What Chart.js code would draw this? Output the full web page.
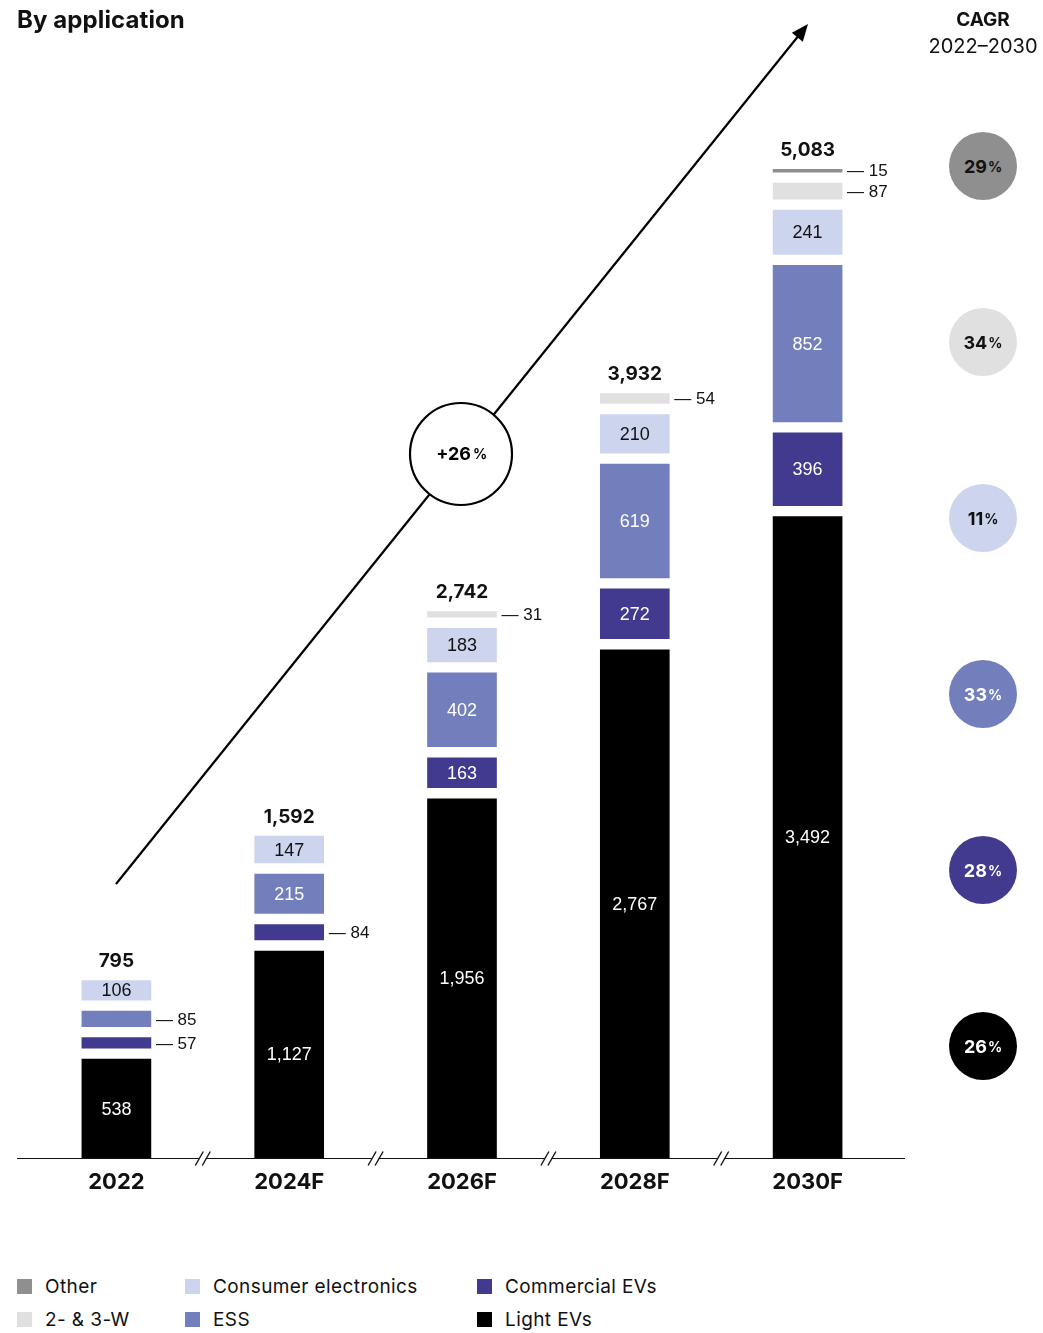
<!DOCTYPE html>
<html><head><meta charset="utf-8">
<script src="https://cdn.jsdelivr.net/npm/chart.js@4.4.0/dist/chart.umd.min.js"></script>
<style>
body{margin:0;background:#fff;width:1043px;height:1333px;position:relative;overflow:hidden;font-family:Inter,"Noto Sans",sans-serif;color:#111;}
#wrap{position:absolute;left:0;top:0;width:1043px;height:1230px;}
.title{position:absolute;left:17px;top:5px;font-weight:700;font-size:24px;letter-spacing:0.1px;}
.cagrT{position:absolute;left:923px;width:120px;text-align:center;}
.circ{position:absolute;width:68px;height:68px;border-radius:50%;left:949px;display:flex;align-items:center;justify-content:center;font-weight:700;font-size:18px;}
.circ small{font-size:14px;margin-left:1px;}
.leg{position:absolute;font-size:19px;letter-spacing:0.4px;display:flex;align-items:center;height:20px;}
.leg i{display:inline-block;width:15px;height:15px;margin-right:13px;}
</style></head>
<body>
<div id="wrap"><canvas id="c"></canvas></div>
<div class="title">By application</div>
<div class="cagrT" style="top:8px;font-weight:700;font-size:19px;">CAGR</div>
<div class="cagrT" style="top:34px;font-size:20px;">2022–2030</div>
<div id="circles"></div>
<div id="legend"></div>
<script>
const categories = ['2022','2024F','2026F','2028F','2030F'];
const seriesNames = ['Light EVs','Commercial EVs','ESS','Consumer electronics','2- & 3-W','Other'];
const lightEVs      = [538, 1127, 1956, 2767, 3492];
const commercialEVs = [57, 84, 163, 272, 396];
const ess           = [85, 215, 402, 619, 852];
const consumerElec  = [106, 147, 183, 210, 241];
const twoThreeW     = [0, 0, 31, 54, 87];
const other         = [0, 0, 0, 0, 15];
const totals        = [795, 1592, 2742, 3932, 5083];
const cagrLabels    = ['Other','2- & 3-W','Consumer electronics','ESS','Commercial EVs','Light EVs'];
const cagrValues    = [29, 34, 11, 33, 28, 26];
const overallCagr   = 26;

const series = [lightEVs, commercialEVs, ess, consumerElec, twoThreeW, other];
const colors = ['#000000','#413a8e','#737ebd','#cdd4ee','#e0e0e0','#8f8f8f'];
const textColors = ['#ffffff','#ffffff','#ffffff','#111111','#111111','#111111'];
const cagrColors = {'Other':'#8f8f8f','2- & 3-W':'#e0e0e0','Consumer electronics':'#cdd4ee','ESS':'#737ebd','Commercial EVs':'#413a8e','Light EVs':'#000000'};
const cagrText = {'Other':'#111','2- & 3-W':'#111','Consumer electronics':'#111','ESS':'#fff','Commercial EVs':'#fff','Light EVs':'#fff'};
const GAP = 60; // visual gap between segments, in value units
const fmt = v => v.toLocaleString('en-US');

// build floating ranges with gaps
const ranges = series.map(()=>[]);
categories.forEach((c,j)=>{
  let cum = 0, first = true;
  series.forEach((s,i)=>{
    const v = s[j];
    if(!v){ ranges[i].push(null); return; }
    if(!first) cum += GAP;
    ranges[i].push([cum, cum+v]);
    cum += v; first = false;
  });
});

const decor = {
  id:'decor',
  afterDraw(chart){
    const ctx = chart.ctx, ca = chart.chartArea;
    ctx.save();
    ctx.textBaseline = 'middle';
    series.forEach((s,i)=>{
      const meta = chart.getDatasetMeta(i);
      meta.data.forEach((bar,j)=>{
        const v = s[j]; if(!v) return;
        const p = bar.getProps(['x','y','base','width'], true);
        const cy = (p.y + p.base)/2;
        if(v >= 100){
          ctx.font = '18px "Liberation Sans", Arial, sans-serif';
          ctx.fillStyle = textColors[i];
          ctx.textAlign = 'center';
          ctx.fillText(fmt(v), p.x, cy+1);
        } else {
          ctx.font = '17px "Liberation Sans", Arial, sans-serif';
          ctx.fillStyle = '#111';
          ctx.textAlign = 'left';
          ctx.fillText('— ' + fmt(v), p.x + p.width/2 + 5, cy+1);
        }
      });
    });
    // totals
    categories.forEach((c,j)=>{
      let top = Infinity, x = 0;
      series.forEach((s,i)=>{
        if(!s[j]) return;
        const b = chart.getDatasetMeta(i).data[j];
        const p = b.getProps(['x','y'], true);
        if(p.y < top){ top = p.y; x = p.x; }
      });
      ctx.font = 'bold 19px Inter, sans-serif';
      ctx.fillStyle = '#111';
      ctx.textAlign = 'center';
      ctx.fillText(fmt(totals[j]), x, top - 19);
    });
    // baseline with breaks
    const yb = ca.bottom + 0.5;
    ctx.strokeStyle = '#111'; ctx.lineWidth = 1.2;
    ctx.beginPath(); ctx.moveTo(17, yb); ctx.lineTo(905, yb); ctx.stroke();
    const xs = chart.getDatasetMeta(0).data.map(b=>b.x);
    for(let k=0;k<xs.length-1;k++){
      const mx = (xs[k]+xs[k+1])/2;
      ctx.fillStyle = '#fff';
      ctx.fillRect(mx-4, yb-3, 7, 6);
      ctx.strokeStyle = '#111'; ctx.lineWidth = 1.4;
      [-3.5, 3.5].forEach(d=>{
        ctx.beginPath(); ctx.moveTo(mx+d-4, yb+7); ctx.lineTo(mx+d+4, yb-7); ctx.stroke();
      });
    }
    // arrow
    const x0 = 116, y0 = 884, x1 = 808, y1 = 24;
    ctx.strokeStyle = '#000'; ctx.lineWidth = 2.2;
    const ang = Math.atan2(y1-y0, x1-x0);
    ctx.beginPath(); ctx.moveTo(x0,y0); ctx.lineTo(x1 - 10*Math.cos(ang), y1 - 10*Math.sin(ang)); ctx.stroke();
    ctx.fillStyle = '#000';
    ctx.beginPath();
    ctx.moveTo(x1,y1);
    ctx.lineTo(x1 - 17*Math.cos(ang) + 7*Math.sin(ang), y1 - 17*Math.sin(ang) - 7*Math.cos(ang));
    ctx.lineTo(x1 - 17*Math.cos(ang) - 7*Math.sin(ang), y1 - 17*Math.sin(ang) + 7*Math.cos(ang));
    ctx.closePath(); ctx.fill();
    // circle
    const cx = 461, cyc = 454, r = 51;
    ctx.fillStyle = '#fff'; ctx.strokeStyle = '#000'; ctx.lineWidth = 2.2;
    ctx.beginPath(); ctx.arc(cx, cyc, r, 0, Math.PI*2); ctx.fill(); ctx.stroke();
    ctx.fillStyle = '#000';
    ctx.font = 'bold 18px Inter, sans-serif';
    ctx.textAlign = 'right';
    ctx.fillText('+' + overallCagr, cx + 10, cyc + 1);
    ctx.font = 'bold 14px Inter, sans-serif';
    ctx.textAlign = 'left';
    ctx.fillText('%', cx + 12, cyc + 1);
    ctx.restore();
  }
};

new Chart(document.getElementById('c'), {
  type:'bar',
  data:{
    labels: categories,
    datasets: series.map((s,i)=>({
      label: seriesNames[i],
      data: ranges[i],
      backgroundColor: colors[i],
      borderWidth: 0,
      barThickness: 69,
      grouped: false
    }))
  },
  options:{
    responsive:true, maintainAspectRatio:false, animation:false,
    layout:{padding:{left:30, right:149, top:56, bottom:32}},
    plugins:{legend:{display:false}, tooltip:{enabled:false}},
    scales:{
      x:{
        grid:{display:false, drawTicks:false}, border:{display:false},
        ticks:{font:{family:'Inter', weight:'bold', size:22}, color:'#111', padding:11},
        afterFit(scale){ scale.height = 40; }
      },
      y:{display:false, min:0, max:6000}
    }
  },
  plugins:[decor]
});

// CAGR circles
const circ = document.getElementById('circles');
cagrLabels.forEach((n,i)=>{
  const d = document.createElement('div');
  d.className = 'circ';
  d.style.top = (166 + 176*i - 34) + 'px';
  d.style.background = cagrColors[n];
  d.style.color = cagrText[n];
  d.innerHTML = cagrValues[i] + '<small>%</small>';
  circ.appendChild(d);
});
// legend
const legItems = [['Other',17,1286],['2- & 3-W',17,1319],['Consumer electronics',185,1286],['ESS',185,1319],['Commercial EVs',477,1286],['Light EVs',477,1319]];
const legColor = {'Other':'#8f8f8f','2- & 3-W':'#e0e0e0','Consumer electronics':'#cdd4ee','ESS':'#737ebd','Commercial EVs':'#413a8e','Light EVs':'#000000'};
const lg = document.getElementById('legend');
legItems.forEach(([n,x,y])=>{
  const d = document.createElement('div');
  d.className = 'leg';
  d.style.left = x + 'px'; d.style.top = (y-10) + 'px';
  d.innerHTML = '<i style="background:' + legColor[n] + '"></i>' + n;
  lg.appendChild(d);
});
</script>
</body></html>
